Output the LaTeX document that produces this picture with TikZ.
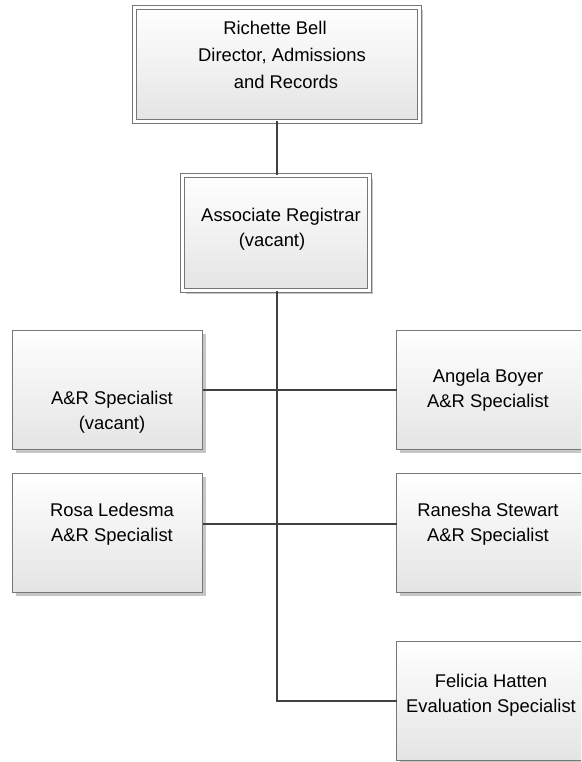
\documentclass[tikz,border=0pt]{standalone}
\usepackage{fontspec}
\setmainfont{Liberation Sans}
\usetikzlibrary{positioning, shadows}

\definecolor{framegray}{HTML}{777777}
\definecolor{linkgray}{HTML}{404040}
\definecolor{fillgray}{HTML}{E4E4E4}
\definecolor{shadegray}{HTML}{C6C6C6}

\begin{document}
\begin{tikzpicture}[
    x=1pt, y=-1pt,
    unit/.style={rectangle, draw=framegray, line width=1pt, top color=white, bottom color=fillgray,
        inner sep=0pt, outer sep=0pt, minimum width=190pt, minimum height=119pt,
        drop shadow={shadow xshift=3pt, shadow yshift=-3pt, fill=shadegray, opacity=1}},
    headunit/.style={unit, double=white, double distance=3pt},
    txt/.style={align=center, inner sep=0pt, font=\fontsize{18.4}{25}\selectfont},
    link/.style={draw=linkgray, line width=2pt}
]
\useasboundingbox (0,0) rectangle (581,762);
\clip (0,0) rectangle (581,762);

% boxes
\node[headunit, minimum width=285pt, minimum height=114pt] (director) at (277,64.5) {};
\node[headunit, minimum width=187pt, minimum height=115pt] (assoc) at (276,233) {};
\node[unit] (spec) at (107.5,390) {};
\node[unit] (rosa) at (107.5,533) {};
\node[unit] (angela) at (491.5,390) {};
\node[unit] (ranesha) at (491.5,533) {};
\node[unit] (felicia) at (491.5,701) {};

% texts
\node[txt, font=\fontsize{18.4}{27}\selectfont] (directortxt) at (282,55)
    {\hspace*{-14pt}Richette Bell\\Director, Admissions\\\hspace*{8pt}and Records};
\node[txt] (assoctxt) at (281,229.5) {Associate Registrar\\\hspace*{-18pt}(vacant)};
\node[txt] (spectxt) at (112,412.5) {A\&R Specialist\\(vacant)};
\node[txt] (rosatxt) at (112,524) {Rosa Ledesma\\A\&R Specialist};
\node[txt] (angelatxt) at (488,390) {Angela Boyer\\A\&R Specialist};
\node[txt] (raneshatxt) at (488,524) {Ranesha Stewart\\A\&R Specialist};
\node[txt] (feliciatxt) at (491,695) {Felicia Hatten\\Evaluation Specialist};

% connectors
\draw[link] (director.south) -- (director.south |- assoc.north);
\draw[link] (director.south |- assoc.south) |- (felicia.west);
\draw[link] (spec.east) -- (angela.west);
\draw[link] ([yshift=9pt]rosa.east) -- ([yshift=9pt]ranesha.west);

\end{tikzpicture}
\end{document}
